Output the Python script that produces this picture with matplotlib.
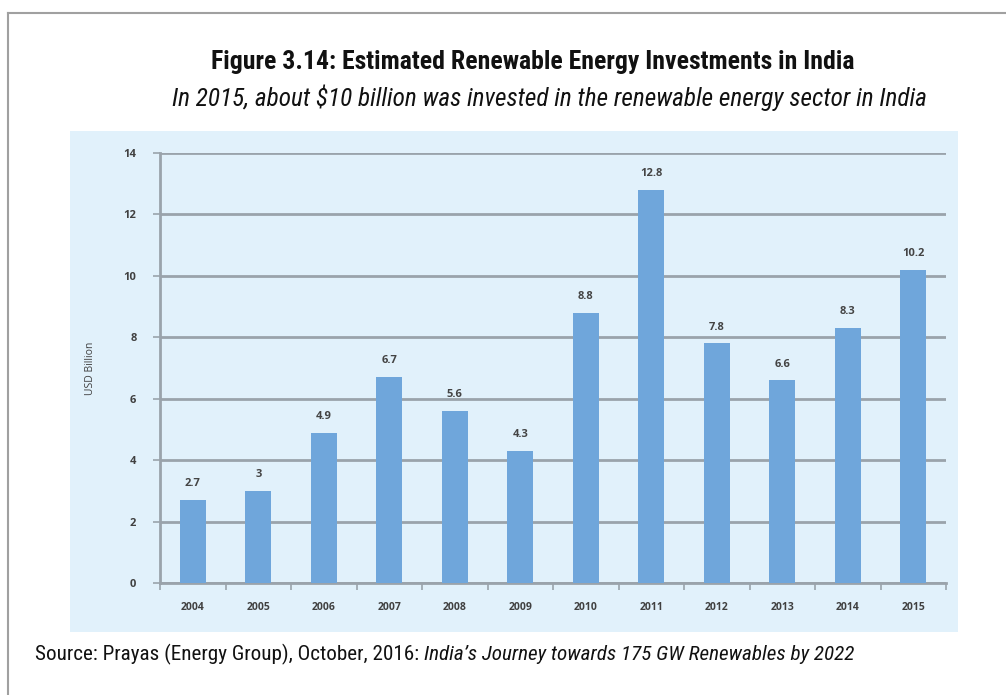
import numpy as np
import matplotlib.pyplot as plt
from matplotlib.patches import Rectangle
from matplotlib.lines import Line2D

years = ['2004', '2005', '2006', '2007', '2008', '2009',
         '2010', '2011', '2012', '2013', '2014', '2015']
invest = [2.7, 3, 4.9, 6.7, 5.6, 4.3, 8.8, 12.8, 7.8, 6.6, 8.3, 10.2]
yticks = [0, 2, 4, 6, 8, 10, 12, 14]

W, H = 1006, 695
fig = plt.figure(figsize=(W / 100, H / 100), dpi=100)
fig.patch.set_facecolor('white')

narrow = ['Liberation Sans Narrow', 'Roboto Condensed', 'DejaVu Sans']
small = ['Open Sans', 'DejaVu Sans']

def fx(px):
    return px / W

def fy(py):
    return 1 - py / H

# outer frame (top and left edges only)
fig.add_artist(Line2D([fx(8), 1], [fy(13), fy(13)], color='#a0a0a0', lw=1.5))
fig.add_artist(Line2D([fx(8), fx(8)], [fy(13), 0], color='#a0a0a0', lw=1.5))

# light blue panel behind the chart
fig.add_artist(Rectangle((fx(70), fy(632)), fx(958) - fx(70), fy(131) - fy(632),
                         facecolor='#e1f1fb', edgecolor='none', zorder=0))

fig.text(fx(533), fy(69), 'Figure 3.14: Estimated Renewable Energy Investments in India',
         ha='center', va='baseline', fontsize=18.5, fontweight='bold', family=narrow,
         color='#111111')
fig.text(fx(549), fy(106), 'In 2015, about $10 billion was invested in the renewable energy sector in India',
         ha='center', va='baseline', fontsize=18.2, style='italic', family=narrow,
         color='#111111')

src = fig.text(fx(35), fy(660), 'Source: Prayas (Energy Group), October, 2016: ',
               ha='left', va='baseline', fontsize=15.2, family=narrow, color='#111111')
fig.canvas.draw()
bb = src.get_window_extent()
fig.text(bb.x1 / W, fy(660), 'India\u2019s Journey towards 175 GW Renewables by 2022',
         ha='left', va='baseline', fontsize=15.2, style='italic', family=narrow,
         color='#111111')

ax = fig.add_axes([fx(160), fy(583), fx(946) - fx(160), fy(153) - fy(583)])
ax.set_facecolor('none')
x = np.arange(len(years))
ax.bar(x, invest, width=0.4, color='#6fa6db', zorder=3)

for xi, v in zip(x, invest):
    ax.text(xi, v + 0.35, f'{v:g}', ha='center', va='bottom', fontsize=8,
            fontweight='bold', family=small, color='#444444')

ax.set_xlim(-0.5, len(years) - 0.5)
ax.set_ylim(0, 14)
ax.set_yticks(yticks)
ax.set_xticks(x)
ax.set_xticklabels(years)
ax.set_xticks(np.arange(-0.5, len(years), 1), minor=True)
ax.grid(axis='y', color='#9aa3ab', lw=2, zorder=1)

for s in ['top', 'right']:
    ax.spines[s].set_visible(False)
for s in ['left', 'bottom']:
    ax.spines[s].set_color('#9aa3ab')
    ax.spines[s].set_linewidth(2)

ax.tick_params(axis='x', which='major', length=0, pad=14, labelsize=7.5,
               labelcolor='#404040')
ax.tick_params(axis='x', which='minor', length=5, color='#9aa3ab', width=1.2)
ax.tick_params(axis='y', length=5, color='#9aa3ab', width=1.2, pad=12,
               labelsize=8, labelcolor='#404040')
for lab in ax.get_xticklabels() + ax.get_yticklabels():
    lab.set_family(small)
    lab.set_fontweight('bold')

ax.set_ylabel('USD Billion', fontsize=7.5, family=small, color='#404040', labelpad=20)

fig.savefig('out.png', dpi=100)
